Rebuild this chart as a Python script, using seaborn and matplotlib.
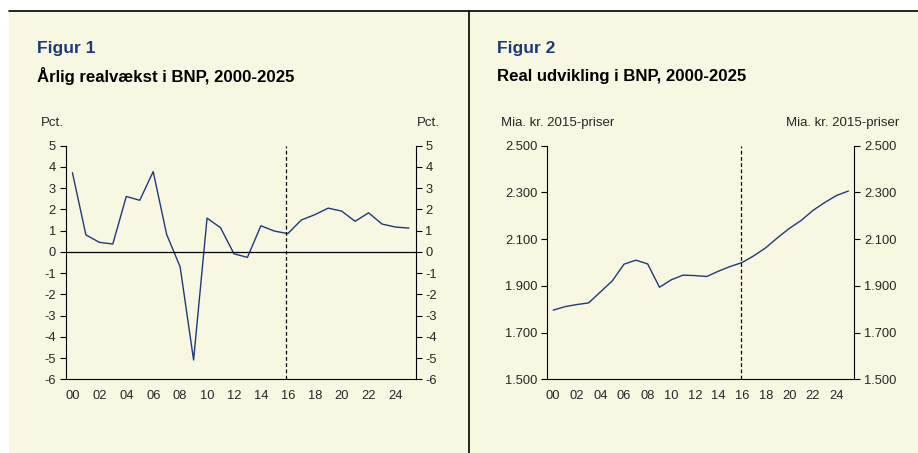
import numpy as np
import pandas as pd
import matplotlib
matplotlib.use("Agg")
import matplotlib.pyplot as plt
import seaborn as sns

# data
years = list(range(2000, 2026))
year_labels = ["00", "02", "04", "06", "08", "10", "12", "14", "16", "18", "20", "22", "24"]

growth = [3.73, 0.80, 0.45, 0.37, 2.61, 2.43, 3.78, 0.82, -0.70, -5.09,
          1.59, 1.14, -0.09, -0.26, 1.23, 0.98, 0.86, 1.50, 1.75, 2.06,
          1.92, 1.44, 1.84, 1.31, 1.17, 1.12]

gdp_level = [1796, 1811, 1820, 1827, 1874, 1921, 1993, 2010, 1994, 1894,
             1926, 1946, 1944, 1940, 1963, 1983, 2000, 2029, 2063, 2106,
             2146, 2180, 2223, 2257, 2287, 2306]

growth_ticks = [5, 4, 3, 2, 1, 0, -1, -2, -3, -4, -5, -6]
level_ticks = [2500, 2300, 2100, 1900, 1700, 1500]
level_tick_labels = ["2.500", "2.300", "2.100", "1.900", "1.700", "1.500"]

forecast_start = 15.9  # dashed line between actual and forecast

BG = "#F8F7E1"
NAVY = "#1F3A7A"
TITLE_BLUE = "#1B3A78"

sns.set_style("white")
plt.rcParams["font.family"] = ["Liberation Sans", "DejaVu Sans"]

W, H = 918, 453
fig = plt.figure(figsize=(W / 100, H / 100), dpi=100)
fig.patch.set_facecolor("white")

# beige panel, top rule and divider (behind the axes)
fig.patches.append(plt.Rectangle((9 / W, 0), (918 - 9) / W, (H - 11) / H,
                                 transform=fig.transFigure, color=BG, zorder=-10))
fig.add_artist(plt.Line2D([9 / W, 1], [1 - 11 / H, 1 - 11 / H],
                          transform=fig.transFigure, color="black", lw=1.2, zorder=-5))
fig.add_artist(plt.Line2D([469.5 / W, 469.5 / W], [0, 1 - 11 / H],
                          transform=fig.transFigure, color="black", lw=1.2, zorder=-5))

df = pd.DataFrame({"idx": np.arange(len(years)), "growth": growth, "level": gdp_level})


def px_axes(x0, x1, y0, y1):
    return fig.add_axes([x0 / W, 1 - y1 / H, (x1 - x0) / W, (y1 - y0) / H])


def style_axes(ax, ylim, yticks, ylabels):
    ax.set_facecolor(BG)
    ax.set_xlim(-0.5, len(years) - 0.5)
    ax.set_ylim(*ylim)
    ax.set_yticks(yticks)
    ax.set_yticklabels(ylabels)
    ax.set_xticks(np.arange(-0.5, len(years)), labels=[])
    ax.set_xticks(np.arange(0, len(years), 2), minor=True)
    ax.set_xticklabels(year_labels, minor=True)
    ax.tick_params(axis="x", which="major", direction="out", length=4, width=0.8, color="black")
    ax.tick_params(axis="x", which="minor", length=0, pad=7.5, labelsize=9.3)
    ax.tick_params(axis="y", which="major", direction="out", length=4, width=0.8, color="black",
                   left=True, right=True, labelleft=True, labelright=True, labelsize=9.3, pad=3)
    for s in ["left", "right", "bottom"]:
        ax.spines[s].set_visible(True)
        ax.spines[s].set_color("black")
        ax.spines[s].set_linewidth(0.8)
    ax.spines["top"].set_visible(False)
    ax.set_xlabel("")
    ax.set_ylabel("")
    ax.axvline(forecast_start, color="black", lw=0.9, ls=(0, (3, 2)))


# Figur 1
ax1 = px_axes(65.7, 415.7, 145.7, 379.3)
sns.lineplot(data=df, x="idx", y="growth", ax=ax1, color=NAVY, lw=1.0)
style_axes(ax1, (-6, 5), growth_ticks, [str(v) for v in growth_ticks])
ax1.axhline(0, color="black", lw=0.9)

# Figur 2
ax2 = px_axes(547.3, 854.3, 145.7, 379.3)
sns.lineplot(data=df, x="idx", y="level", ax=ax2, color=NAVY, lw=1.0)
style_axes(ax2, (1500, 2500), level_ticks, level_tick_labels)

# titles and unit labels
fig.text(37 / W, 1 - 48 / H, "Figur 1", color=TITLE_BLUE, fontsize=12.5,
         fontweight="bold", va="center", ha="left")
fig.text(37 / W, 1 - 76 / H, "Årlig realvækst i BNP, 2000-2025", color="black",
         fontsize=12.1, fontweight="bold", va="center", ha="left")
fig.text(41 / W, 1 - 123 / H, "Pct.", fontsize=9.5, va="center", ha="left")
fig.text(440 / W, 1 - 123 / H, "Pct.", fontsize=9.5, va="center", ha="right")

fig.text(497 / W, 1 - 48 / H, "Figur 2", color=TITLE_BLUE, fontsize=12.5,
         fontweight="bold", va="center", ha="left")
fig.text(497 / W, 1 - 76 / H, "Real udvikling i BNP, 2000-2025", color="black",
         fontsize=12.1, fontweight="bold", va="center", ha="left")
fig.text(501 / W, 1 - 123 / H, "Mia. kr. 2015-priser", fontsize=9.5, va="center", ha="left")
fig.text(899 / W, 1 - 123 / H, "Mia. kr. 2015-priser", fontsize=9.5, va="center", ha="right")

fig.savefig("out.png", dpi=100, facecolor=fig.get_facecolor())
